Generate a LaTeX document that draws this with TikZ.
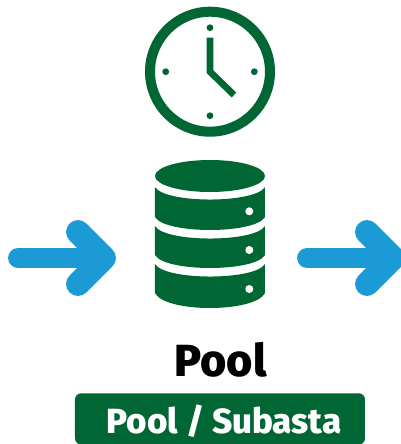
\documentclass[tikz,border=0pt]{standalone}
\usepackage{fontspec}
\newfontfamily\poolfont{Fira Sans ExtraBold}
\definecolor{poolgreen}{HTML}{006633}
\definecolor{poolblue}{HTML}{1B9AD6}
\begin{document}
\begin{tikzpicture}[x=0.02cm,y=-0.02cm]
    \tikzstyle{every node}+=[inner sep=0pt]
    \tikzstyle{clockhand}=[draw=poolgreen,line width=3.8pt,line join=miter]
    \tikzstyle{arrowshaft}=[draw=poolblue,line width=11.3pt,line cap=round]
    \tikzstyle{arrowhead}=[draw=poolblue,line width=13.6pt,line cap=round,line join=round]
    \useasboundingbox (0,0) rectangle (400,444);
    \draw [poolgreen,line width=5.7pt] (210,71.7) circle (60);
    \fill [poolgreen] (210,27.7) circle (3.4);
    \fill [poolgreen] (210,115.7) circle (3.4);
    \fill [poolgreen] (165.7,71.7) circle (3.4);
    \fill [poolgreen] (254.3,71.7) circle (3.4);
    \draw [clockhand] (210,37.7) -- (210,71.7) -- (234,95);
    \fill [poolgreen] (210,176) ellipse (55 and 16);
    \foreach \ytop/\ybot/\dip in {187/217/17.3, 226/255/17.3, 264/293/20} {
        \fill [poolgreen] (155,\ytop) .. controls (165,\ytop+16.7) and (255,\ytop+16.7) .. (265,\ytop)
            -- (265,\ybot) .. controls (255,\ybot+\dip) and (165,\ybot+\dip) .. (155,\ybot) -- cycle;
    }
    \foreach \ydot in {211.3,250,289} {
        \fill [white] (249.3,\ydot) circle (4);
    }
    \draw [arrowshaft] (18,258) -- (100,258);
    \draw [arrowhead] (78,232) -- (104,258) -- (78,284);
    \draw [arrowshaft] (307,258) -- (389,258);
    \draw [arrowhead] (367,232) -- (393,258) -- (367,284);
    \node [font=\poolfont\fontsize{25.6}{30}\selectfont,anchor=base] (pooltitle) at (220.5,376.7) {Pool};
    \fill [poolgreen,rounded corners=3.5pt] (75,393.3) rectangle (365,444.5);
    \node [font=\poolfont\fontsize{19.9}{23}\selectfont,text=white,anchor=base] (poolbadge) at (224,433) {Pool / Subasta};
\end{tikzpicture}
\end{document}
